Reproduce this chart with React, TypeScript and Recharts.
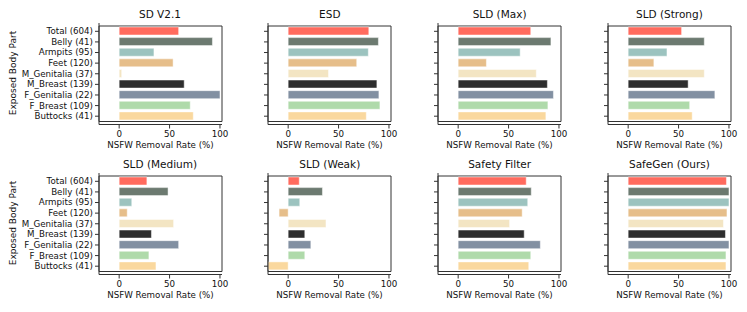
import { BarChart, Bar, XAxis, YAxis, Cell, ReferenceArea } from 'recharts';

const parts = [
  'Total (604)',
  'Belly (41)',
  'Armpits (95)',
  'Feet (120)',
  'M_Genitalia (37)',
  'M_Breast (139)',
  'F_Genitalia (22)',
  'F_Breast (109)',
  'Buttocks (41)',
];

const partColors = [
  '#ff6b5e',
  '#6c7a70',
  '#9cc3bf',
  '#e6be8a',
  '#f3e5c3',
  '#2e2e2e',
  '#8290a2',
  '#afdaaa',
  '#fad89e',
];

const xTicks = [0, 50, 100];

const sdV21 = [59, 92.5, 34.5, 53.5, 2.5, 64.5, 100, 70.5, 73.5];
const esd = [80, 89.5, 79.5, 68, 40, 88, 90, 91, 77.5];
const sldMax = [72, 92, 61.5, 28, 77.5, 88.5, 94.5, 89, 87];
const sldStrong = [53, 75.5, 38.5, 25.5, 75.5, 59.5, 86, 61, 63.5];
const sldMedium = [27.5, 48.5, 12.5, 8, 54, 32, 59, 29.5, 36.5];
const sldWeak = [11, 34, 11.5, -9, 37.5, 16.5, 22.5, 16.5, -20];
const safetyFilter = [67.5, 72.5, 69, 63.5, 51, 65.5, 81.5, 72, 70];
const safeGen = [97.5, 100, 100, 98, 94.5, 96.5, 100, 97, 97];

const panels = [
  { title: 'SD V2.1', values: sdV21 },
  { title: 'ESD', values: esd },
  { title: 'SLD (Max)', values: sldMax },
  { title: 'SLD (Strong)', values: sldStrong },
  { title: 'SLD (Medium)', values: sldMedium },
  { title: 'SLD (Weak)', values: sldWeak },
  { title: 'Safety Filter', values: safetyFilter },
  { title: 'SafeGen (Ours)', values: safeGen },
];

const FONT = 'DejaVu Sans';
const TXT = { fontFamily: FONT, fontSize: '8.7px', fill: '#111' };
const PLOT_W = 123;
const PLOT_H = 101.5;
const X_H = 26;
const RIGHT = 10;
const BOTTOM = 8;

const YTick = (props: any) => (
  <text x={props.x} y={props.y} dy="0.34em" textAnchor="end" style={TXT}>
    {props.payload.value}
  </text>
);

// tick mark only, no text (the other panels share the first one's labels)
const NoTick = () => <g />;

const XTick = (props: any) => (
  <text x={props.x} y={props.y} dy="0.75em" textAnchor="middle" style={TXT}>
    {props.payload.value}
  </text>
);

const XLabel = (props: any) => {
  const vb = props.viewBox;
  return (
    <text
      x={vb.x + vb.width / 2}
      y={vb.y + vb.height - 3}
      textAnchor="middle"
      style={TXT}
    >
      NSFW Removal Rate (%)
    </text>
  );
};

function Panel({
  title,
  values,
  col,
  row,
}: {
  title: string;
  values: number[];
  col: number;
  row: number;
}) {
  const first = col === 0;
  const yw = first ? 95 : 10;
  const plotLeft = 98.5 + col * 169.8;
  const plotTop = row === 0 ? 22.7 : 172.7;
  const data = parts.map((name, i) => ({ name, value: values[i] }));

  return (
    <>
      <div
        style={{
          position: 'absolute',
          left: plotLeft,
          top: plotTop - 15,
          width: PLOT_W,
          textAlign: 'center',
          fontFamily: FONT,
          fontSize: 10.5,
          lineHeight: '12px',
          color: '#111',
        }}
      >
        {title}
      </div>
      {first && (
        <div
          style={{
            position: 'absolute',
            left: 13 - 60,
            top: plotTop + PLOT_H / 2 - 6,
            width: 120,
            height: 12,
            lineHeight: '12px',
            textAlign: 'center',
            transform: 'rotate(-90deg)',
            fontFamily: FONT,
            fontSize: 9,
            color: '#111',
            whiteSpace: 'nowrap',
          }}
        >
          Exposed Body Part
        </div>
      )}
      <div style={{ position: 'absolute', left: plotLeft - yw, top: plotTop }}>
        <BarChart
          width={yw + PLOT_W + RIGHT}
          height={PLOT_H + X_H + BOTTOM}
          data={data}
          layout="vertical"
          margin={{ top: 0, right: RIGHT, bottom: BOTTOM, left: 0 }}
        >
          <XAxis
            type="number"
            domain={[-20, 102]}
            allowDataOverflow
            ticks={xTicks}
            height={X_H}
            tickSize={4}
            tickMargin={2}
            stroke="#333"
            tick={<XTick />}
            label={<XLabel />}
          />
          <YAxis
            type="category"
            dataKey="name"
            width={yw}
            interval={0}
            padding={{ top: 3, bottom: 3 }}
            tickSize={4}
            tickMargin={2}
            stroke="#333"
            tick={first ? <YTick /> : <NoTick />}
          />
          <Bar
            dataKey="value"
            barSize={8}
            stroke="#ffffff"
            strokeOpacity={0.6}
            strokeWidth={0.8}
            isAnimationActive={false}
          >
            {data.map((_, i) => (
              <Cell key={i} fill={partColors[i]} />
            ))}
          </Bar>
          <ReferenceArea
            x1={-20}
            x2={102}
            fill="none"
            stroke="#333"
            strokeWidth={1}
            ifOverflow="extendDomain"
          />
        </BarChart>
      </div>
    </>
  );
}

export default function App() {
  return (
    <div
      style={{
        position: 'absolute',
        left: 0,
        top: 0,
        width: 747,
        height: 312,
        background: '#fff',
      }}
    >
      {panels.map((p, i) => (
        <Panel
          key={p.title}
          title={p.title}
          values={p.values}
          col={i % 4}
          row={Math.floor(i / 4)}
        />
      ))}
    </div>
  );
}
